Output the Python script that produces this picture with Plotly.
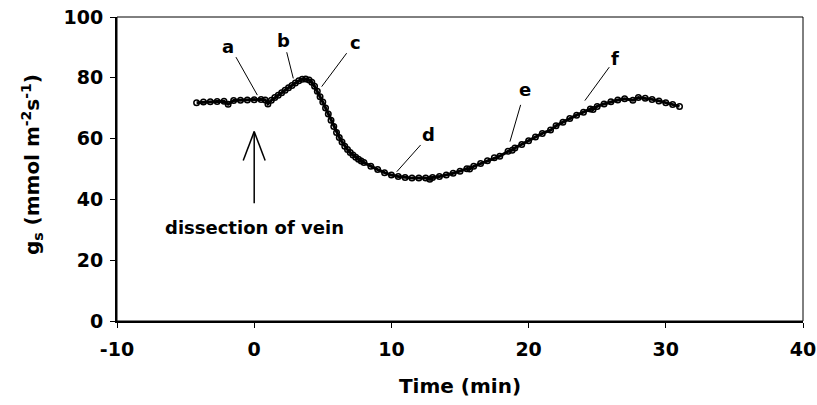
import plotly.graph_objects as go

# ---- data ----
time_min = [-4.2, -3.7, -3.2, -2.7, -2.2, -1.9, -1.5, -1.0, -0.5, 0.0, 0.5, 0.8, 1.0,
            1.25, 1.5, 1.75, 2.0, 2.25, 2.5, 2.75, 3.0, 3.25, 3.5, 3.75, 4.0,
            4.2, 4.4, 4.6, 4.8, 5.0, 5.2, 5.4, 5.6, 5.8, 6.0, 6.2, 6.4, 6.6, 6.8,
            7.0, 7.2, 7.4, 7.6, 7.8, 8.0, 8.5, 9.0, 9.5, 10.0, 10.5, 11.0, 11.5,
            12.0, 12.5, 12.8, 13.0, 13.5, 14.0, 14.5, 15.0, 15.5, 15.7, 16.0, 16.5,
            17.0, 17.5, 17.9, 18.5, 18.8, 19.0, 19.5, 20.0, 20.5, 21.0, 21.6, 22.0,
            22.5, 23.0, 23.5, 24.0, 24.5, 24.7, 25.0, 25.5, 26.0, 26.5, 27.0, 27.6,
            28.0, 28.5, 29.0, 29.5, 30.0, 30.5, 31.0]
gs_values = [71.8, 72.0, 72.1, 72.2, 72.3, 71.3, 72.5, 72.6, 72.7, 72.8, 72.9, 72.7, 71.4,
             72.6, 73.5, 74.3, 75.1, 75.9, 76.7, 77.5, 78.3, 79.0, 79.5, 79.6, 79.3,
             78.5, 77.2, 75.6, 73.8, 72.0, 70.1, 68.1, 66.0, 64.0, 62.0, 60.4, 58.9, 57.5, 56.4,
             55.4, 54.6, 53.9, 53.2, 52.6, 52.1, 50.9, 49.8, 48.8, 48.0, 47.5, 47.2, 47.0,
             47.0, 47.0, 46.6, 47.2, 47.5, 48.0, 48.6, 49.3, 50.1, 50.0, 50.9, 51.8,
             52.7, 53.7, 54.2, 55.8, 56.2, 56.9, 58.1, 59.3, 60.5, 61.7, 62.8, 64.2,
             65.4, 66.6, 67.7, 68.7, 69.7, 69.6, 70.6, 71.4, 72.1, 72.7, 73.1, 72.6,
             73.5, 73.3, 72.9, 72.4, 71.8, 71.2, 70.6]

x_ticks = [-10, 0, 10, 20, 30, 40]
x_tick_text = ["-10", "0", "10", "20", "30", "40"]
y_ticks = [0, 20, 40, 60, 80, 100]
y_tick_text = ["0", "20", "40", "60", "80", "100"]

# labels: (text, label x, label y, line start x, y, line end x, y)
point_labels = ["a", "b", "c", "d", "e", "f"]
label_x = [-1.9, 2.1, 7.35, 12.7, 19.75, 26.3]
label_y = [90.2, 92.4, 91.5, 61.2, 76.2, 86.4]
leader_x0 = [-1.33, 2.37, 6.74, 12.13, 19.42, 25.88]
leader_y0 = [86.8, 88.4, 88.1, 57.9, 71.1, 83.5]
leader_x1 = [0.23, 2.85, 4.92, 10.39, 18.64, 24.1]
leader_y1 = [74.3, 79.8, 77.1, 49.1, 59.0, 72.5]

FONT = "DejaVu Sans"

fig = go.Figure()
fig.add_trace(go.Scatter(
    x=time_min, y=gs_values, mode="lines+markers",
    line=dict(color="black", width=3),
    marker=dict(symbol="circle-open", size=5.5, color="black", line=dict(width=1.5)),
    showlegend=False, hoverinfo="skip"))

shapes = []
for i in range(len(point_labels)):
    shapes.append(dict(type="line", xref="x", yref="y",
                       x0=leader_x0[i], y0=leader_y0[i], x1=leader_x1[i], y1=leader_y1[i],
                       line=dict(color="black", width=1)))
# arrow marking dissection time
shapes.append(dict(type="line", xref="x", yref="y", x0=0, y0=38.7, x1=0, y1=62.3,
                   line=dict(color="black", width=1.5)))
shapes.append(dict(type="line", xref="x", yref="y", x0=-0.8, y0=52.8, x1=0, y1=62.3,
                   line=dict(color="black", width=1.5)))
shapes.append(dict(type="line", xref="x", yref="y", x0=0.8, y0=52.8, x1=0, y1=62.3,
                   line=dict(color="black", width=1.5)))
# frame
shapes.append(dict(type="rect", xref="paper", yref="paper", x0=0, y0=0, x1=1, y1=1,
                   line=dict(color="black", width=1), layer="below"))

annotations = []
for i in range(len(point_labels)):
    annotations.append(dict(x=label_x[i], y=label_y[i], xref="x", yref="y",
                            text="<b>" + point_labels[i] + "</b>", showarrow=False,
                            font=dict(family=FONT, size=18, color="black")))
annotations.append(dict(x=0, y=30.8, xref="x", yref="y", text="<b>dissection of vein</b>",
                        showarrow=False,
                        font=dict(family=FONT, size=18, color="black")))
# y-axis title
annotations.append(dict(x=-0.124, y=0.516, xref="paper", yref="paper",
                        xanchor="center", yanchor="middle", textangle=-90, showarrow=False,
                        text="<b>g<sub>s</sub> (mmol m<sup>-2</sup>s<sup>-1</sup>)</b>",
                        font=dict(family=FONT, size=20, color="black")))

fig.update_layout(
    width=817, height=405,
    margin=dict(l=117, r=14, t=17, b=84, autoexpand=False),
    paper_bgcolor="white", plot_bgcolor="white",
    shapes=shapes, annotations=annotations,
    xaxis=dict(range=[-10, 40], tickvals=x_ticks, ticktext=x_tick_text, ticks="outside", ticklen=5,
               tickcolor="black", showline=True, linewidth=2, linecolor="black",
               showgrid=False, zeroline=False, ticklabelstandoff=5, automargin=False,
               tickfont=dict(family=FONT, size=19, color="black", weight="bold"),
               title=dict(text="<b>Time (min)</b>", standoff=20,
                          font=dict(family=FONT, size=20, color="black"))),
    yaxis=dict(range=[0, 100], tickvals=y_ticks, ticktext=y_tick_text, ticks="outside", ticklen=5,
               tickcolor="black", showline=True, linewidth=2, linecolor="black",
               showgrid=False, zeroline=False, ticklabelstandoff=3, automargin=False,
               tickfont=dict(family=FONT, size=19, color="black", weight="bold")),
)

fig.write_html("out.html")
